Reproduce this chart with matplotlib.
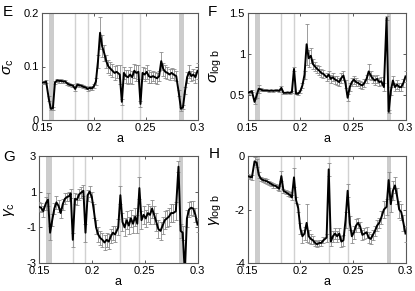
import numpy as np
import matplotlib
matplotlib.use('Agg')
import matplotlib.pyplot as plt

plt.rcParams['font.family'] = ['Liberation Sans', 'DejaVu Sans']
plt.rcParams['mathtext.fontset'] = 'custom'
plt.rcParams['mathtext.rm'] = 'Liberation Sans'
plt.rcParams['mathtext.it'] = 'Liberation Sans:italic'

# === data ===
a = [0.150, 0.152, 0.154, 0.1565, 0.1585, 0.1605, 0.1625, 0.1645, 0.1665, 0.1685,
     0.1705, 0.1725, 0.1745, 0.1765, 0.1785, 0.180, 0.182, 0.184, 0.186, 0.188,
     0.190, 0.192, 0.194, 0.196, 0.198, 0.200, 0.202, 0.204, 0.206, 0.208,
     0.210, 0.212, 0.214, 0.216, 0.218, 0.220, 0.222, 0.225, 0.227, 0.229,
     0.231, 0.233, 0.235, 0.237, 0.239, 0.241, 0.243, 0.245, 0.247, 0.249,
     0.251, 0.253, 0.255, 0.257, 0.259, 0.261, 0.263, 0.265, 0.267, 0.269,
     0.271, 0.273, 0.275, 0.277, 0.2795, 0.282, 0.284, 0.286, 0.288, 0.290,
     0.292, 0.294, 0.296, 0.298, 0.300]

sigma_c = [0.070, 0.070, 0.072, 0.040, 0.021, 0.022, 0.070, 0.074, 0.073, 0.073,
           0.072, 0.072, 0.068, 0.066, 0.065, 0.064, 0.058, 0.066, 0.065, 0.064,
           0.062, 0.061, 0.058, 0.060, 0.059, 0.063, 0.072, 0.110, 0.163, 0.138,
           0.125, 0.110, 0.100, 0.096, 0.092, 0.088, 0.090, 0.085, 0.034, 0.088,
           0.082, 0.080, 0.085, 0.080, 0.092, 0.088, 0.090, 0.030, 0.088, 0.085,
           0.090, 0.082, 0.080, 0.082, 0.080, 0.078, 0.082, 0.110, 0.095, 0.090,
           0.088, 0.085, 0.088, 0.085, 0.082, 0.050, 0.021, 0.024, 0.055, 0.080,
           0.090, 0.082, 0.085, 0.080, 0.092]
err_sigma_c = [0.003, 0.003, 0.003, 0.004, 0.003, 0.003, 0.003, 0.003, 0.003, 0.003,
               0.003, 0.003, 0.003, 0.003, 0.003, 0.003, 0.004, 0.003, 0.003, 0.003,
               0.003, 0.003, 0.004, 0.003, 0.003, 0.004, 0.006, 0.012, 0.030, 0.020,
               0.015, 0.012, 0.012, 0.012, 0.012, 0.013, 0.012, 0.018, 0.006, 0.012,
               0.012, 0.013, 0.015, 0.012, 0.013, 0.015, 0.013, 0.006, 0.012, 0.012,
               0.013, 0.012, 0.010, 0.010, 0.010, 0.010, 0.010, 0.017, 0.012, 0.012,
               0.012, 0.010, 0.010, 0.010, 0.010, 0.006, 0.004, 0.004, 0.006, 0.010,
               0.012, 0.010, 0.010, 0.010, 0.015]

sigma_logb = [0.53, 0.54, 0.55, 0.42, 0.50, 0.58, 0.57, 0.56, 0.56, 0.56,
              0.555, 0.56, 0.555, 0.56, 0.56, 0.555, 0.59, 0.53, 0.53, 0.535,
              0.53, 0.54, 0.82, 0.52, 0.52, 0.55, 0.62, 0.75, 1.12, 0.95,
              0.98, 0.88, 0.85, 0.82, 0.80, 0.77, 0.76, 0.72, 0.75, 0.70,
              0.72, 0.69, 0.68, 0.66, 0.71, 0.74, 0.64, 0.47, 0.60, 0.66,
              0.69, 0.66, 0.65, 0.63, 0.62, 0.65, 0.70, 0.79, 0.74, 0.70,
              0.68, 0.70, 0.66, 0.67, 0.60, 1.44, 0.30, 0.55, 0.68, 0.60,
              0.63, 0.60, 0.60, 0.65, 0.73]
err_sigma_logb = [0.01, 0.01, 0.01, 0.03, 0.03, 0.05, 0.02, 0.01, 0.01, 0.01,
                  0.01, 0.01, 0.01, 0.01, 0.01, 0.01, 0.02, 0.01, 0.01, 0.01,
                  0.01, 0.01, 0.03, 0.01, 0.02, 0.02, 0.03, 0.05, 0.25, 0.10,
                  0.09, 0.06, 0.05, 0.05, 0.05, 0.05, 0.05, 0.05, 0.05, 0.05,
                  0.05, 0.05, 0.05, 0.05, 0.06, 0.05, 0.05, 0.04, 0.05, 0.05,
                  0.05, 0.05, 0.04, 0.04, 0.04, 0.05, 0.05, 0.09, 0.05, 0.05,
                  0.05, 0.05, 0.05, 0.05, 0.05, 0.02, 0.02, 0.05, 0.05, 0.05,
                  0.05, 0.05, 0.05, 0.05, 0.07]

gamma_c = [0.15, 0.10, -0.10, 0.35, 0.55, -1.30, -0.60, 0.05, 0.40, 0.20,
           -0.20, 0.30, 0.60, 0.70, 0.75, 0.90, -1.70, 0.60, 0.55, 0.85,
           0.95, 1.05, -1.30, 0.80, 1.00, 0.70, -0.10, -1.00, -1.40, -1.60,
           -1.70, -1.85, -1.70, -1.80, -1.50, -1.30, -1.40, -1.00, 0.80, -0.70,
           -1.00, -0.60, -0.90, -0.50, -0.80, -0.40, -0.80, 1.20, -0.60, -0.30,
           -0.50, -0.20, -0.30, 0.05, -0.30, -0.70, -1.10, -1.20, -0.90, -0.60,
           -0.50, -0.40, -0.20, -0.20, -0.10, 2.40, -1.20, -1.30, -3.60, -0.50,
           0.00, 0.10, 0.05, -0.30, -0.85]
err_gamma_c = [0.25, 0.25, 0.3, 0.35, 0.35, 0.4, 0.35, 0.3, 0.35, 0.35,
               0.3, 0.3, 0.3, 0.25, 0.25, 0.25, 0.4, 0.3, 0.3, 0.3,
               0.3, 0.3, 0.5, 0.3, 0.3, 0.3, 0.4, 0.4, 0.4, 0.4,
               0.4, 0.4, 0.4, 0.4, 0.4, 0.4, 0.45, 0.45, 0.5, 0.5,
               0.5, 0.5, 0.5, 0.5, 0.5, 0.5, 0.5, 0.6, 0.5, 0.5,
               0.5, 0.5, 0.5, 0.5, 0.5, 0.5, 0.5, 0.5, 0.5, 0.5,
               0.5, 0.5, 0.5, 0.5, 0.5, 0.3, 0.4, 0.4, 0.5, 0.5,
               0.4, 0.4, 0.4, 0.4, 0.4]

gamma_logb = [-0.75, -0.78, -0.80, -0.20, -0.25, -0.70, -0.85, -0.90, -0.92, -0.95,
              -1.00, -1.05, -1.10, -1.12, -1.18, -1.22, -0.75, -1.30, -1.35, -1.40,
              -1.45, -1.55, -0.80, -1.65, -1.95, -2.70, -3.00, -2.90, -2.50, -3.00,
              -3.10, -3.15, -3.25, -3.30, -3.25, -3.25, -3.15, -3.05, -0.50, -3.20,
              -3.00, -2.90, -3.00, -2.90, -3.20, -3.15, -2.40, -1.30, -2.50, -3.00,
              -2.85, -2.60, -2.50, -2.65, -2.95, -2.90, -2.85, -3.05, -3.10, -2.95,
              -2.80, -2.60, -2.50, -2.30, -2.00, -1.90, -0.90, -1.80, -1.30, -1.10,
              -1.50, -2.00, -2.10, -2.50, -2.90]
err_gamma_logb = [0.08, 0.08, 0.08, 0.15, 0.15, 0.12, 0.08, 0.08, 0.08, 0.08,
                  0.08, 0.08, 0.08, 0.08, 0.08, 0.08, 0.2, 0.08, 0.08, 0.08,
                  0.1, 0.1, 0.35, 0.1, 0.15, 0.2, 0.25, 0.25, 0.7, 0.25,
                  0.2, 0.15, 0.12, 0.12, 0.12, 0.12, 0.12, 0.15, 0.25, 0.15,
                  0.2, 0.2, 0.2, 0.2, 0.2, 0.2, 0.3, 0.25, 0.25, 0.25,
                  0.25, 0.25, 0.2, 0.2, 0.2, 0.2, 0.2, 0.2, 0.2, 0.2,
                  0.2, 0.2, 0.2, 0.25, 0.3, 0.3, 0.3, 0.3, 0.35, 0.3,
                  0.3, 0.3, 0.3, 0.3, 0.3]

# grey markers
bands = [(0.1565, 0.162), (0.2823, 0.2866)]
lines = [0.182, 0.194, 0.227, 0.245]

xticks = [0.15, 0.2, 0.25, 0.3]
xticklabels = ['0.15', '0.2', '0.25', '0.3']

W, H = 415, 291
fig = plt.figure(figsize=(W / 100, H / 100), dpi=100)


def px_axes(left, top, right, bottom):
    return fig.add_axes([left / W, 1 - bottom / H, (right - left) / W, (bottom - top) / H])


def panel(ax, y, err, ylim, yticks, yticklabels, ylabel, lab_x):
    for lo, hi in bands:
        ax.axvspan(lo, hi, color='0.8', lw=0, zorder=0)
    for xv in lines:
        ax.axvline(xv, color='0.82', lw=1.0, zorder=0)
    ax.errorbar(a, y, yerr=err, fmt='-', color='k', lw=1.4,
                ecolor='0.55', elinewidth=0.6, capsize=1.5, capthick=0.6, zorder=3)
    ax.set_xlim(0.15, 0.3)
    ax.set_ylim(*ylim)
    ax.set_xticks(xticks)
    ax.set_xticklabels(xticklabels)
    ax.set_yticks(yticks)
    ax.set_yticklabels(yticklabels)
    ax.tick_params(direction='in', top=True, right=True, length=2, width=0.6,
                   labelsize=8, pad=2, colors='0.25', labelcolor='k')
    for s in ax.spines.values():
        s.set_color('0.35')
        s.set_linewidth(0.8)
    ax.set_xlabel('a', fontsize=9, labelpad=0)
    ax.set_ylabel(ylabel, fontsize=11)
    ax.yaxis.set_label_coords(lab_x, 0.5)


axE = px_axes(42, 13, 197.5, 120)
panel(axE, sigma_c, err_sigma_c, (0, 0.2), [0, 0.1, 0.2], ['0', '0.1', '0.2'],
      r'$\sigma_\mathrm{c}$', -0.17)

axF = px_axes(247.7, 13, 405.5, 120)
panel(axF, sigma_logb, err_sigma_logb, (0.2, 1.5), [0.5, 1, 1.5], ['0.5', '1', '1.5'],
      r'$\sigma_\mathrm{log\ b}$', -0.15)

axG = px_axes(39, 156, 197.5, 263)
panel(axG, gamma_c, err_gamma_c, (-3, 3), [-3, -1, 1, 3], ['-3', '-1', '1', '3'],
      r'$\gamma_\mathrm{c}$', -0.14)

axH = px_axes(247.7, 156, 405.5, 263)
panel(axH, gamma_logb, err_gamma_logb, (-4, 0), [-4, -2, 0], ['-4', '-2', '0'],
      r'$\gamma_\mathrm{log\ b}$', -0.15)

for letter, xp, yp in [('E', 3, 5), ('F', 208, 5), ('G', 3, 150), ('H', 209, 147)]:
    fig.text(xp / W, 1 - yp / H, letter, fontsize=11, va='top', ha='left')

fig.savefig('out.png', dpi=100)
